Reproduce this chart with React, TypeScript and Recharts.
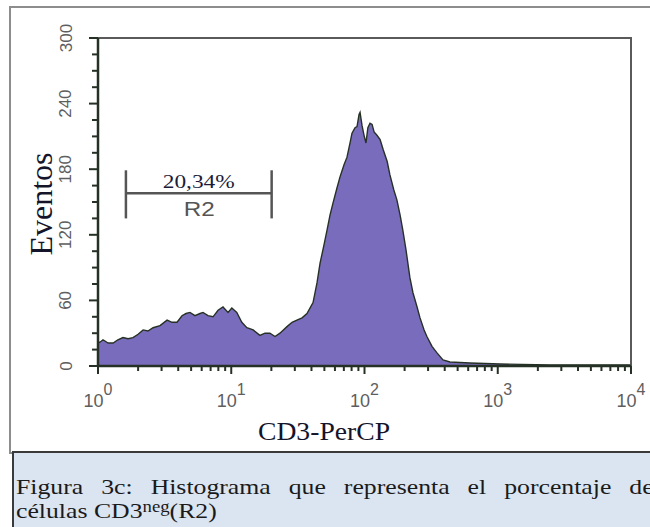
import React from 'react';
import {
  ComposedChart,
  Area,
  XAxis,
  YAxis,
  ReferenceArea,
  ReferenceLine,
  ReferenceDot,
} from 'recharts';

// CD3-PerCP fluorescence channel (log units) and event counts per channel
const intensity = [
  1.0, 1.04, 1.09, 1.19, 1.3, 1.41, 1.54, 1.68, 1.83, 2.0, 2.18, 2.37, 2.59, 2.92, 3.3, 3.59,
  3.92, 4.27, 4.58, 4.9, 5.34, 5.83, 6.14, 6.69, 7.3, 7.96, 8.67, 9.46, 10.1, 11.0, 12.0, 13.1,
  14.6, 16.4, 17.9, 19.5, 21.3, 23.2, 26.2, 28.6, 31.1, 34.0, 37.0, 41.1, 44.0, 46.4, 49.7, 52.3,
  55.1, 58.0, 62.2, 65.5, 70.2, 73.9, 77.9, 80.6, 84.9, 87.9, 91.0, 92.6, 95.8, 99.2, 102.6, 106,
  110, 114, 118, 124, 131, 138, 148, 155, 166, 175, 185, 194, 205, 219, 231, 248,
  261, 280, 294, 321, 350, 388, 438, 619, 1040, 2466, 9820,
];
const events = [
  21, 22, 24, 21, 21, 24, 26, 25, 26, 29, 33, 32, 35, 37, 42, 40,
  40, 46, 48, 49, 46, 48, 49, 46, 45, 51, 54, 49, 53, 49, 40, 35,
  33, 28, 30, 30, 27, 30, 36, 40, 42, 44, 48, 58, 76, 94, 111, 124,
  138, 149, 163, 173, 184, 191, 204, 213, 218, 219, 230, 232, 220, 211, 204, 218,
  222, 221, 214, 211, 207, 198, 187, 175, 161, 152, 138, 124, 106, 81, 67, 54,
  44, 33, 27, 18, 12, 5.5, 3.7, 2.7, 1.8, 1, 1,
];

const countTicks = [0, 15, 30, 45, 60, 75, 90, 105, 120, 135, 150, 165, 180, 195, 210, 225, 240, 255, 270, 285, 300];
const countLabels = [0, 60, 120, 180, 240, 300];
const intensityTicks = [
  1, 2, 3, 4, 5, 6, 7, 8, 9,
  10, 20, 30, 40, 50, 60, 70, 80, 90,
  100, 200, 300, 400, 500, 600, 700, 800, 900,
  1000, 2000, 3000, 4000, 5000, 6000, 7000, 8000, 9000, 10000,
];
const decades = [1, 10, 100, 1000, 10000];
const decadeExponents = ['0', '1', '2', '3', '4'];

// R2 gate marker
const gateFrom = 1.62;
const gateTo = 20.1;
const gateLevel = 158;
const gateBarLow = 135;
const gateBarHigh = 179;
const gateCenter = 5.7;
const gatePercent = '20,34%';
const gateName = 'R2';

const data = intensity.map((x, i) => ({ x, count: events[i] }));

const AXIS = '#263126';
const GRAY_TEXT = '#5e5e5e';
const SERIF = "'Liberation Serif', 'Times New Roman', serif";
const SANS = "'Liberation Sans', Arial, sans-serif";

const CountTick = (props: any) => {
  const { x, y, payload } = props;
  const major = countLabels.includes(payload.value);
  const lx = x - 32;
  return (
    <g>
      <line x1={x - (major ? 9 : 6)} x2={x} y1={y} y2={y} stroke={AXIS} strokeWidth={2} />
      {major && (
        <text
          x={lx}
          y={y}
          transform={`rotate(-90 ${lx} ${y})`}
          textAnchor="middle"
          dominantBaseline="central"
          fontFamily={SANS}
          fontSize={17}
          fill={GRAY_TEXT}
        >
          {payload.value}
        </text>
      )}
    </g>
  );
};

const IntensityTick = (props: any) => {
  const { x, y, payload } = props;
  const idx = decades.indexOf(payload.value);
  const major = idx >= 0;
  return (
    <g>
      <line x1={x} x2={x} y1={y} y2={y + (major ? 8 : 5)} stroke={AXIS} strokeWidth={2} />
      {major && (
        <text
          x={x}
          y={y + 41}
          textAnchor="middle"
          fontFamily={SANS}
          fontSize={18}
          fill={GRAY_TEXT}
        >
          <tspan>10</tspan>
          <tspan dy={-12} fontSize={16}>
            {decadeExponents[idx]}
          </tspan>
        </text>
      )}
    </g>
  );
};

const GateLabel = (props: any) => {
  const { viewBox } = props;
  const cx = viewBox.x + (viewBox.width || 0) / 2;
  const cy = viewBox.y + (viewBox.height || 0) / 2;
  return (
    <g>
      <text
        x={cx - 36}
        y={cy - 5}
        textLength={72}
        lengthAdjust="spacingAndGlyphs"
        fontFamily={SERIF}
        fontSize={19}
        fill="#1c1c3a"
      >
        {gatePercent}
      </text>
      <text
        x={cx - 15}
        y={cy + 23}
        textLength={31}
        lengthAdjust="spacingAndGlyphs"
        fontFamily={SANS}
        fontSize={20}
        fill="#555"
      >
        {gateName}
      </text>
    </g>
  );
};

export default function App() {
  return (
    <div
      style={{
        position: 'absolute',
        left: 0,
        top: 0,
        width: 650,
        height: 527,
        overflow: 'hidden',
        background: '#fff',
      }}
    >
      <div
        style={{
          position: 'absolute',
          left: 9,
          top: 6,
          width: 660,
          height: 444,
          border: '2px solid #8d8d8d',
        }}
      />
      <div style={{ position: 'absolute', left: 0, top: 0 }}>
        <ComposedChart
          width={650}
          height={460}
          data={data}
          margin={{ top: 38, right: 19, left: 38, bottom: 54 }}
        >
          <ReferenceArea
            x1={1}
            x2={10000}
            y1={0}
            y2={300}
            fill="none"
            stroke="#5a5a5a"
            strokeWidth={2}
            ifOverflow="visible"
          />
          <Area
            type="linear"
            dataKey="count"
            stroke={AXIS}
            strokeWidth={1.4}
            fill="#7a6cbd"
            fillOpacity={1}
            isAnimationActive={false}
            dot={false}
            activeDot={false}
          />
          <XAxis
            dataKey="x"
            type="number"
            scale="log"
            domain={[1, 10000]}
            ticks={intensityTicks}
            interval={0}
            allowDataOverflow
            height={40}
            tickSize={0}
            tickMargin={0}
            tickLine={false}
            axisLine={{ stroke: AXIS, strokeWidth: 2.5 }}
            tick={<IntensityTick />}
            label={{
              content: () => (
                <text
                  x={258}
                  y={440}
                  textLength={132}
                  lengthAdjust="spacingAndGlyphs"
                  fontFamily={SERIF}
                  fontSize={25}
                  fill="#14142a"
                >
                  CD3-PerCP
                </text>
              ),
            }}
          />
          <YAxis
            type="number"
            domain={[0, 300]}
            ticks={countTicks}
            interval={0}
            width={60}
            tickSize={0}
            tickMargin={0}
            tickLine={false}
            axisLine={{ stroke: AXIS, strokeWidth: 2.5 }}
            tick={<CountTick />}
            label={{
              content: () => (
                <text
                  x={52}
                  y={204}
                  transform="rotate(-90 52 204)"
                  textAnchor="middle"
                  fontFamily={SERIF}
                  fontSize={32}
                  fill="#14142a"
                >
                  Eventos
                </text>
              ),
            }}
          />
          <ReferenceLine
            segment={[
              { x: gateFrom, y: gateLevel },
              { x: gateTo, y: gateLevel },
            ]}
            stroke="#555"
            strokeWidth={2.5}
          />
          <ReferenceLine
            segment={[
              { x: gateFrom, y: gateBarLow },
              { x: gateFrom, y: gateBarHigh },
            ]}
            stroke="#555"
            strokeWidth={2.5}
          />
          <ReferenceLine
            segment={[
              { x: gateTo, y: gateBarLow },
              { x: gateTo, y: gateBarHigh },
            ]}
            stroke="#555"
            strokeWidth={2.5}
          />
          <ReferenceDot
            x={gateCenter}
            y={gateLevel}
            r={0}
            fill="none"
            stroke="none"
            label={{ content: GateLabel }}
          />
        </ComposedChart>
      </div>
      <div
        style={{
          position: 'absolute',
          left: 12,
          top: 451,
          width: 660,
          height: 90,
          background: '#dbe5f1',
          borderTop: '2px solid #3a3a3a',
          borderLeft: '2px solid #3a3a3a',
          fontFamily: SERIF,
          fontSize: 22,
          lineHeight: '24px',
          color: '#1a1a1a',
        }}
      >
        <div
          style={{
            position: 'absolute',
            left: 2,
            top: 22,
            width: 545,
            textAlign: 'justify',
            textAlignLast: 'justify',
            whiteSpace: 'nowrap',
            transform: 'scaleX(1.17)',
            transformOrigin: 'left top',
          }}
        >
          Figura 3c: Histograma que representa el porcentaje de
        </div>
        <div
          style={{
            position: 'absolute',
            left: 2,
            top: 46,
            whiteSpace: 'nowrap',
            transform: 'scaleX(1.17)',
            transformOrigin: 'left top',
          }}
        >
          células CD3<sup style={{ fontSize: 16, verticalAlign: 'top', lineHeight: '16px' }}>neg</sup>(R2)
        </div>
      </div>
    </div>
  );
}
